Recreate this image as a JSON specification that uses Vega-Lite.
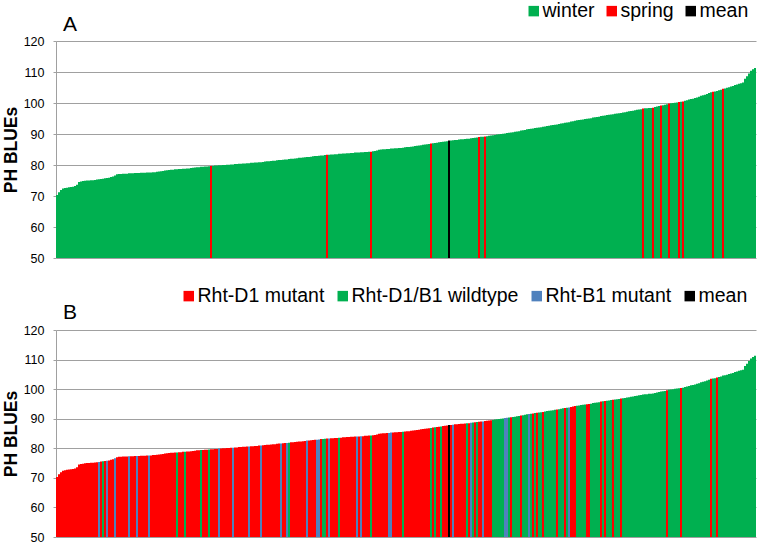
{
"$schema": "https://vega.github.io/schema/vega-lite/v6.json",
"background": "white",
"padding": {"left": 2, "top": 1, "right": 3, "bottom": 0},
"bounds": "flush",
"spacing": 72,
"config": {
  "view": {"stroke": null},
  "font": "Liberation Sans",
  "axisY": {"domainColor": "#A0A0A0", "gridColor": "#A0A0A0", "tickColor": "#A0A0A0", "tickSize": 3, "labelPadding": 9, "labelFontSize": 12.5, "labelColor": "#000000", "titleFontSize": 17.5, "titleFontWeight": "bold", "titleColor": "#000000", "titlePadding": 3},
  "legend": {"orient": "none", "direction": "horizontal", "title": null, "symbolType": "square", "symbolSize": 110, "symbolStrokeWidth": 0, "symbolOpacity": 1, "labelFontSize": 19.5, "labelColor": "#000000", "labelOffset": -1, "padding": 0, "labelLimit": 400},
  "title": {"fontSize": 21, "fontWeight": "normal", "color": "#000000", "anchor": "start", "frame": "group"}
},
"datasets": {
"aNames": [{"k":"w","n":"winter"},{"k":"s","n":"spring"},{"k":"m","n":"mean"}],
"bNames": [{"k":"d","n":"Rht-D1 mutant"},{"k":"w","n":"Rht-D1/B1 wildtype"},{"k":"b","n":"Rht-B1 mutant"},{"k":"m","n":"mean"}],
"bars": [
{"i":0,"v":70.3,"a":"w","b":"d"},{"i":1,"v":71.2,"a":"w","b":"d"},{"i":2,"v":71.9,"a":"w","b":"d"},{"i":3,"v":72.4,"a":"w","b":"d"},{"i":4,"v":72.6,"a":"w","b":"d"},{"i":5,"v":72.7,"a":"w","b":"d"},{"i":6,"v":72.8,"a":"w","b":"d"},{"i":7,"v":72.9,"a":"w","b":"d"},{"i":8,"v":73.0,"a":"w","b":"d"},{"i":9,"v":73.2,"a":"w","b":"d"},
{"i":10,"v":73.6,"a":"w","b":"d"},{"i":11,"v":74.5,"a":"w","b":"d"},{"i":12,"v":74.7,"a":"w","b":"d"},{"i":13,"v":74.8,"a":"w","b":"d"},{"i":14,"v":74.9,"a":"w","b":"d"},{"i":15,"v":75.0,"a":"w","b":"d"},{"i":16,"v":75.0,"a":"w","b":"d"},{"i":17,"v":75.1,"a":"w","b":"d"},{"i":18,"v":75.1,"a":"w","b":"d"},{"i":19,"v":75.2,"a":"w","b":"d"},
{"i":20,"v":75.3,"a":"w","b":"d"},{"i":21,"v":75.4,"a":"w","b":"b"},{"i":22,"v":75.5,"a":"w","b":"d"},{"i":23,"v":75.6,"a":"w","b":"w"},{"i":24,"v":75.7,"a":"w","b":"d"},{"i":25,"v":75.8,"a":"w","b":"b"},{"i":26,"v":75.9,"a":"w","b":"d"},{"i":27,"v":76.1,"a":"w","b":"d"},{"i":28,"v":76.3,"a":"w","b":"d"},{"i":29,"v":76.6,"a":"w","b":"b"},
{"i":30,"v":77.0,"a":"w","b":"d"},{"i":31,"v":77.1,"a":"w","b":"d"},{"i":32,"v":77.1,"a":"w","b":"d"},{"i":33,"v":77.2,"a":"w","b":"d"},{"i":34,"v":77.2,"a":"w","b":"d"},{"i":35,"v":77.2,"a":"w","b":"d"},{"i":36,"v":77.3,"a":"w","b":"b"},{"i":37,"v":77.3,"a":"w","b":"d"},{"i":38,"v":77.3,"a":"w","b":"d"},{"i":39,"v":77.4,"a":"w","b":"d"},
{"i":40,"v":77.4,"a":"w","b":"b"},{"i":41,"v":77.4,"a":"w","b":"d"},{"i":42,"v":77.5,"a":"w","b":"d"},{"i":43,"v":77.5,"a":"w","b":"d"},{"i":44,"v":77.5,"a":"w","b":"d"},{"i":45,"v":77.6,"a":"w","b":"d"},{"i":46,"v":77.6,"a":"w","b":"b"},{"i":47,"v":77.6,"a":"w","b":"d"},{"i":48,"v":77.7,"a":"w","b":"d"},{"i":49,"v":77.7,"a":"w","b":"d"},
{"i":50,"v":77.8,"a":"w","b":"d"},{"i":51,"v":77.9,"a":"w","b":"d"},{"i":52,"v":78.0,"a":"w","b":"d"},{"i":53,"v":78.1,"a":"w","b":"d"},{"i":54,"v":78.2,"a":"w","b":"d"},{"i":55,"v":78.3,"a":"w","b":"d"},{"i":56,"v":78.4,"a":"w","b":"d"},{"i":57,"v":78.5,"a":"w","b":"d"},{"i":58,"v":78.5,"a":"w","b":"d"},{"i":59,"v":78.6,"a":"w","b":"d"},
{"i":60,"v":78.6,"a":"w","b":"w"},{"i":61,"v":78.7,"a":"w","b":"d"},{"i":62,"v":78.7,"a":"w","b":"d"},{"i":63,"v":78.8,"a":"w","b":"d"},{"i":64,"v":78.8,"a":"w","b":"w"},{"i":65,"v":78.9,"a":"w","b":"d"},{"i":66,"v":78.9,"a":"w","b":"d"},{"i":67,"v":79.0,"a":"w","b":"d"},{"i":68,"v":79.1,"a":"w","b":"d"},{"i":69,"v":79.2,"a":"w","b":"d"},
{"i":70,"v":79.3,"a":"w","b":"d"},{"i":71,"v":79.3,"a":"w","b":"d"},{"i":72,"v":79.4,"a":"w","b":"w"},{"i":73,"v":79.4,"a":"w","b":"d"},{"i":74,"v":79.5,"a":"w","b":"d"},{"i":75,"v":79.5,"a":"w","b":"d"},{"i":76,"v":79.6,"a":"w","b":"w"},{"i":77,"v":79.7,"a":"s","b":"d"},{"i":78,"v":79.7,"a":"w","b":"d"},{"i":79,"v":79.8,"a":"w","b":"d"},
{"i":80,"v":79.8,"a":"w","b":"d"},{"i":81,"v":79.9,"a":"w","b":"b"},{"i":82,"v":79.9,"a":"w","b":"d"},{"i":83,"v":80.0,"a":"w","b":"d"},{"i":84,"v":80.0,"a":"w","b":"d"},{"i":85,"v":80.1,"a":"w","b":"d"},{"i":86,"v":80.1,"a":"w","b":"d"},{"i":87,"v":80.2,"a":"w","b":"d"},{"i":88,"v":80.2,"a":"w","b":"b"},{"i":89,"v":80.3,"a":"w","b":"d"},
{"i":90,"v":80.3,"a":"w","b":"d"},{"i":91,"v":80.4,"a":"w","b":"d"},{"i":92,"v":80.4,"a":"w","b":"d"},{"i":93,"v":80.5,"a":"w","b":"d"},{"i":94,"v":80.5,"a":"w","b":"d"},{"i":95,"v":80.6,"a":"w","b":"d"},{"i":96,"v":80.6,"a":"w","b":"b"},{"i":97,"v":80.7,"a":"w","b":"d"},{"i":98,"v":80.7,"a":"w","b":"d"},{"i":99,"v":80.8,"a":"w","b":"d"},
{"i":100,"v":80.8,"a":"w","b":"d"},{"i":101,"v":80.9,"a":"w","b":"d"},{"i":102,"v":80.9,"a":"w","b":"b"},{"i":103,"v":81.0,"a":"w","b":"d"},{"i":104,"v":81.1,"a":"w","b":"d"},{"i":105,"v":81.2,"a":"w","b":"d"},{"i":106,"v":81.2,"a":"w","b":"d"},{"i":107,"v":81.3,"a":"w","b":"d"},{"i":108,"v":81.4,"a":"w","b":"d"},{"i":109,"v":81.4,"a":"w","b":"d"},
{"i":110,"v":81.5,"a":"w","b":"d"},{"i":111,"v":81.6,"a":"w","b":"d"},{"i":112,"v":81.6,"a":"w","b":"b"},{"i":113,"v":81.7,"a":"w","b":"d"},{"i":114,"v":81.8,"a":"w","b":"d"},{"i":115,"v":81.8,"a":"w","b":"b"},{"i":116,"v":81.9,"a":"w","b":"w"},{"i":117,"v":82.0,"a":"w","b":"d"},{"i":118,"v":82.0,"a":"w","b":"d"},{"i":119,"v":82.1,"a":"w","b":"d"},
{"i":120,"v":82.2,"a":"w","b":"d"},{"i":121,"v":82.3,"a":"w","b":"d"},{"i":122,"v":82.3,"a":"w","b":"d"},{"i":123,"v":82.4,"a":"w","b":"d"},{"i":124,"v":82.5,"a":"w","b":"d"},{"i":125,"v":82.6,"a":"w","b":"b"},{"i":126,"v":82.6,"a":"w","b":"d"},{"i":127,"v":82.7,"a":"w","b":"d"},{"i":128,"v":82.8,"a":"w","b":"d"},{"i":129,"v":82.9,"a":"w","b":"d"},
{"i":130,"v":82.9,"a":"w","b":"b"},{"i":131,"v":83.0,"a":"w","b":"b"},{"i":132,"v":83.1,"a":"w","b":"d"},{"i":133,"v":83.1,"a":"w","b":"w"},{"i":134,"v":83.2,"a":"w","b":"w"},{"i":135,"v":83.3,"a":"s","b":"d"},{"i":136,"v":83.3,"a":"w","b":"b"},{"i":137,"v":83.4,"a":"w","b":"d"},{"i":138,"v":83.4,"a":"w","b":"d"},{"i":139,"v":83.5,"a":"w","b":"d"},
{"i":140,"v":83.5,"a":"w","b":"d"},{"i":141,"v":83.6,"a":"w","b":"w"},{"i":142,"v":83.6,"a":"w","b":"d"},{"i":143,"v":83.7,"a":"w","b":"d"},{"i":144,"v":83.7,"a":"w","b":"d"},{"i":145,"v":83.8,"a":"w","b":"d"},{"i":146,"v":83.8,"a":"w","b":"d"},{"i":147,"v":83.9,"a":"w","b":"d"},{"i":148,"v":83.9,"a":"w","b":"d"},{"i":149,"v":84.0,"a":"w","b":"d"},
{"i":150,"v":84.0,"a":"w","b":"b"},{"i":151,"v":84.0,"a":"w","b":"d"},{"i":152,"v":84.1,"a":"w","b":"b"},{"i":153,"v":84.1,"a":"w","b":"d"},{"i":154,"v":84.2,"a":"w","b":"d"},{"i":155,"v":84.2,"a":"w","b":"d"},{"i":156,"v":84.3,"a":"w","b":"d"},{"i":157,"v":84.3,"a":"s","b":"w"},{"i":158,"v":84.4,"a":"w","b":"d"},{"i":159,"v":84.5,"a":"w","b":"d"},
{"i":160,"v":84.7,"a":"w","b":"d"},{"i":161,"v":84.9,"a":"w","b":"d"},{"i":162,"v":85.0,"a":"w","b":"d"},{"i":163,"v":85.1,"a":"w","b":"d"},{"i":164,"v":85.1,"a":"w","b":"d"},{"i":165,"v":85.2,"a":"w","b":"d"},{"i":166,"v":85.2,"a":"w","b":"b"},{"i":167,"v":85.3,"a":"w","b":"b"},{"i":168,"v":85.3,"a":"w","b":"d"},{"i":169,"v":85.4,"a":"w","b":"d"},
{"i":170,"v":85.4,"a":"w","b":"d"},{"i":171,"v":85.5,"a":"w","b":"d"},{"i":172,"v":85.5,"a":"w","b":"d"},{"i":173,"v":85.6,"a":"w","b":"w"},{"i":174,"v":85.7,"a":"w","b":"d"},{"i":175,"v":85.8,"a":"w","b":"d"},{"i":176,"v":85.8,"a":"w","b":"d"},{"i":177,"v":85.9,"a":"w","b":"d"},{"i":178,"v":86.0,"a":"w","b":"d"},{"i":179,"v":86.1,"a":"w","b":"d"},
{"i":180,"v":86.2,"a":"w","b":"d"},{"i":181,"v":86.3,"a":"w","b":"d"},{"i":182,"v":86.4,"a":"w","b":"d"},{"i":183,"v":86.5,"a":"w","b":"d"},{"i":184,"v":86.6,"a":"w","b":"d"},{"i":185,"v":86.7,"a":"w","b":"d"},{"i":186,"v":86.8,"a":"w","b":"d"},{"i":187,"v":86.9,"a":"s","b":"w"},{"i":188,"v":87.0,"a":"w","b":"d"},{"i":189,"v":87.1,"a":"w","b":"w"},
{"i":190,"v":87.2,"a":"w","b":"d"},{"i":191,"v":87.3,"a":"w","b":"d"},{"i":192,"v":87.4,"a":"w","b":"w"},{"i":193,"v":87.5,"a":"w","b":"d"},{"i":194,"v":87.6,"a":"w","b":"d"},{"i":195,"v":87.7,"a":"w","b":"d"},{"i":196,"v":87.9,"a":"m","b":"m"},{"i":197,"v":87.9,"a":"w","b":"d"},{"i":198,"v":88.0,"a":"w","b":"b"},{"i":199,"v":88.1,"a":"w","b":"d"},
{"i":200,"v":88.1,"a":"w","b":"d"},{"i":201,"v":88.2,"a":"w","b":"d"},{"i":202,"v":88.3,"a":"w","b":"d"},{"i":203,"v":88.3,"a":"w","b":"d"},{"i":204,"v":88.4,"a":"w","b":"d"},{"i":205,"v":88.5,"a":"w","b":"w"},{"i":206,"v":88.5,"a":"w","b":"d"},{"i":207,"v":88.6,"a":"w","b":"b"},{"i":208,"v":88.7,"a":"w","b":"w"},{"i":209,"v":88.8,"a":"w","b":"d"},
{"i":210,"v":88.9,"a":"w","b":"w"},{"i":211,"v":89.0,"a":"s","b":"d"},{"i":212,"v":89.1,"a":"w","b":"d"},{"i":213,"v":89.1,"a":"w","b":"b"},{"i":214,"v":89.2,"a":"s","b":"d"},{"i":215,"v":89.3,"a":"w","b":"d"},{"i":216,"v":89.4,"a":"w","b":"d"},{"i":217,"v":89.5,"a":"w","b":"d"},{"i":218,"v":89.6,"a":"w","b":"w"},{"i":219,"v":89.7,"a":"w","b":"w"},
{"i":220,"v":89.8,"a":"w","b":"w"},{"i":221,"v":89.9,"a":"w","b":"w"},{"i":222,"v":90.0,"a":"w","b":"w"},{"i":223,"v":90.1,"a":"w","b":"w"},{"i":224,"v":90.2,"a":"w","b":"b"},{"i":225,"v":90.3,"a":"w","b":"b"},{"i":226,"v":90.4,"a":"w","b":"w"},{"i":227,"v":90.5,"a":"w","b":"d"},{"i":228,"v":90.6,"a":"w","b":"w"},{"i":229,"v":90.7,"a":"w","b":"w"},
{"i":230,"v":90.8,"a":"w","b":"w"},{"i":231,"v":90.9,"a":"w","b":"w"},{"i":232,"v":91.1,"a":"w","b":"d"},{"i":233,"v":91.2,"a":"w","b":"w"},{"i":234,"v":91.3,"a":"w","b":"w"},{"i":235,"v":91.5,"a":"w","b":"w"},{"i":236,"v":91.6,"a":"w","b":"b"},{"i":237,"v":91.7,"a":"w","b":"w"},{"i":238,"v":91.8,"a":"w","b":"d"},{"i":239,"v":91.9,"a":"w","b":"w"},
{"i":240,"v":92.0,"a":"w","b":"d"},{"i":241,"v":92.1,"a":"w","b":"w"},{"i":242,"v":92.2,"a":"w","b":"w"},{"i":243,"v":92.3,"a":"w","b":"d"},{"i":244,"v":92.4,"a":"w","b":"w"},{"i":245,"v":92.6,"a":"w","b":"w"},{"i":246,"v":92.7,"a":"w","b":"w"},{"i":247,"v":92.8,"a":"w","b":"w"},{"i":248,"v":92.9,"a":"w","b":"w"},{"i":249,"v":93.0,"a":"w","b":"w"},
{"i":250,"v":93.1,"a":"w","b":"d"},{"i":251,"v":93.2,"a":"w","b":"w"},{"i":252,"v":93.4,"a":"w","b":"w"},{"i":253,"v":93.5,"a":"w","b":"w"},{"i":254,"v":93.6,"a":"w","b":"d"},{"i":255,"v":93.7,"a":"w","b":"w"},{"i":256,"v":93.8,"a":"w","b":"b"},{"i":257,"v":94.0,"a":"w","b":"d"},{"i":258,"v":94.1,"a":"w","b":"d"},{"i":259,"v":94.3,"a":"w","b":"d"},
{"i":260,"v":94.4,"a":"w","b":"w"},{"i":261,"v":94.5,"a":"w","b":"w"},{"i":262,"v":94.6,"a":"w","b":"w"},{"i":263,"v":94.7,"a":"w","b":"w"},{"i":264,"v":94.8,"a":"w","b":"w"},{"i":265,"v":94.9,"a":"w","b":"d"},{"i":266,"v":95.0,"a":"w","b":"d"},{"i":267,"v":95.1,"a":"w","b":"w"},{"i":268,"v":95.3,"a":"w","b":"w"},{"i":269,"v":95.4,"a":"w","b":"w"},
{"i":270,"v":95.5,"a":"w","b":"w"},{"i":271,"v":95.6,"a":"w","b":"w"},{"i":272,"v":95.8,"a":"w","b":"d"},{"i":273,"v":95.9,"a":"w","b":"w"},{"i":274,"v":96.0,"a":"w","b":"d"},{"i":275,"v":96.1,"a":"w","b":"w"},{"i":276,"v":96.2,"a":"w","b":"w"},{"i":277,"v":96.3,"a":"w","b":"w"},{"i":278,"v":96.4,"a":"w","b":"d"},{"i":279,"v":96.5,"a":"w","b":"w"},
{"i":280,"v":96.6,"a":"w","b":"w"},{"i":281,"v":96.7,"a":"w","b":"w"},{"i":282,"v":96.8,"a":"w","b":"d"},{"i":283,"v":96.9,"a":"w","b":"w"},{"i":284,"v":97.0,"a":"w","b":"w"},{"i":285,"v":97.2,"a":"w","b":"w"},{"i":286,"v":97.3,"a":"w","b":"w"},{"i":287,"v":97.4,"a":"w","b":"w"},{"i":288,"v":97.5,"a":"w","b":"w"},{"i":289,"v":97.7,"a":"w","b":"w"},
{"i":290,"v":97.8,"a":"w","b":"w"},{"i":291,"v":97.9,"a":"w","b":"w"},{"i":292,"v":98.0,"a":"w","b":"w"},{"i":293,"v":98.2,"a":"s","b":"w"},{"i":294,"v":98.3,"a":"w","b":"w"},{"i":295,"v":98.3,"a":"w","b":"w"},{"i":296,"v":98.4,"a":"w","b":"w"},{"i":297,"v":98.4,"a":"w","b":"w"},{"i":298,"v":98.5,"a":"s","b":"w"},{"i":299,"v":98.7,"a":"w","b":"w"},
{"i":300,"v":98.9,"a":"w","b":"w"},{"i":301,"v":99.0,"a":"w","b":"w"},{"i":302,"v":99.2,"a":"s","b":"w"},{"i":303,"v":99.3,"a":"w","b":"w"},{"i":304,"v":99.4,"a":"w","b":"w"},{"i":305,"v":99.6,"a":"w","b":"d"},{"i":306,"v":99.8,"a":"s","b":"w"},{"i":307,"v":99.9,"a":"w","b":"w"},{"i":308,"v":100.0,"a":"w","b":"w"},{"i":309,"v":100.1,"a":"w","b":"w"},
{"i":310,"v":100.2,"a":"w","b":"w"},{"i":311,"v":100.3,"a":"s","b":"w"},{"i":312,"v":100.4,"a":"w","b":"d"},{"i":313,"v":100.5,"a":"s","b":"w"},{"i":314,"v":100.7,"a":"w","b":"w"},{"i":315,"v":100.9,"a":"w","b":"w"},{"i":316,"v":101.1,"a":"w","b":"w"},{"i":317,"v":101.3,"a":"w","b":"w"},{"i":318,"v":101.4,"a":"w","b":"w"},{"i":319,"v":101.6,"a":"w","b":"w"},
{"i":320,"v":101.8,"a":"w","b":"w"},{"i":321,"v":102.0,"a":"w","b":"w"},{"i":322,"v":102.3,"a":"w","b":"w"},{"i":323,"v":102.5,"a":"w","b":"w"},{"i":324,"v":102.7,"a":"w","b":"w"},{"i":325,"v":102.9,"a":"w","b":"w"},{"i":326,"v":103.2,"a":"w","b":"w"},{"i":327,"v":103.5,"a":"w","b":"d"},{"i":328,"v":103.6,"a":"s","b":"w"},{"i":329,"v":103.7,"a":"w","b":"w"},
{"i":330,"v":103.9,"a":"w","b":"d"},{"i":331,"v":104.1,"a":"w","b":"w"},{"i":332,"v":104.3,"a":"w","b":"w"},{"i":333,"v":104.6,"a":"s","b":"w"},{"i":334,"v":104.7,"a":"w","b":"w"},{"i":335,"v":104.9,"a":"w","b":"w"},{"i":336,"v":105.1,"a":"w","b":"w"},{"i":337,"v":105.3,"a":"w","b":"w"},{"i":338,"v":105.5,"a":"w","b":"w"},{"i":339,"v":105.8,"a":"w","b":"w"},
{"i":340,"v":106.0,"a":"w","b":"w"},{"i":341,"v":106.2,"a":"w","b":"w"},{"i":342,"v":106.4,"a":"w","b":"w"},{"i":343,"v":106.6,"a":"w","b":"w"},{"i":344,"v":107.8,"a":"w","b":"w"},{"i":345,"v":108.6,"a":"w","b":"w"},{"i":346,"v":109.5,"a":"w","b":"w"},{"i":347,"v":110.4,"a":"w","b":"w"},{"i":348,"v":110.9,"a":"w","b":"w"},{"i":349,"v":111.3,"a":"w","b":"w"}
]
},
"resolve": {"scale": {"color": "independent"}, "legend": {"color": "independent"}},
"vconcat": [
{
  "width": 700, "height": 217,
  "title": {"text": "A", "dx": 7, "offset": -51, "baseline": "alphabetic"},
  "data": {"name": "bars"},
  "transform": [{"lookup": "a", "from": {"data": {"name": "aNames"}, "key": "k", "fields": ["n"]}, "as": ["season"]}],
  "mark": {"type": "bar"},
  "encoding": {
    "x": {"field": "i", "type": "ordinal", "axis": null, "scale": {"paddingInner": 0, "paddingOuter": 0}},
    "y": {"field": "v", "type": "quantitative", "scale": {"domain": [50, 120], "zero": false, "nice": false}, "axis": {"title": "PH BLUEs", "values": [50, 60, 70, 80, 90, 100, 110, 120]}},
    "y2": {"datum": 50},
    "color": {"field": "season", "type": "nominal", "scale": {"domain": ["winter", "spring", "mean"], "range": ["#00B050", "#FF0000", "#000000"]}, "legend": {"legendX": 468, "legendY": -40, "columnPadding": 7}}
  }
},
{
  "width": 700, "height": 207,
  "title": {"text": "B", "dx": 7, "offset": -54, "baseline": "alphabetic"},
  "data": {"name": "bars"},
  "transform": [{"lookup": "b", "from": {"data": {"name": "bNames"}, "key": "k", "fields": ["n"]}, "as": ["genotype"]}],
  "mark": {"type": "bar"},
  "encoding": {
    "x": {"field": "i", "type": "ordinal", "axis": null, "scale": {"paddingInner": 0, "paddingOuter": 0}},
    "y": {"field": "v", "type": "quantitative", "scale": {"domain": [50, 120], "zero": false, "nice": false}, "axis": {"title": "PH BLUEs", "values": [50, 60, 70, 80, 90, 100, 110, 120]}},
    "y2": {"datum": 50},
    "color": {"field": "genotype", "type": "nominal", "scale": {"domain": ["Rht-D1 mutant", "Rht-D1/B1 wildtype", "Rht-B1 mutant", "mean"], "range": ["#FF0000", "#00B050", "#4F81BD", "#000000"]}, "legend": {"legendX": 123, "legendY": -44, "columnPadding": 8}}
  }
}
]
}
